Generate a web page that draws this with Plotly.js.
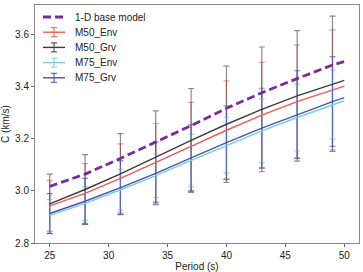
<!DOCTYPE html>
<html>
<head>
<meta charset="utf-8">
<script src="https://cdn.plot.ly/plotly-3.0.1.min.js"></script>
<style>
  html, body { margin: 0; padding: 0; background: #fff; }
  #chart { width: 363px; height: 272px; }
</style>
</head>
<body>
<div id="chart"></div>
<script>
// Periods (s) where the phase-velocity curves are sampled
const periods = [25, 28, 31, 34, 37, 40, 43, 46, 49, 50];
// Periods carrying error bars
const errPeriods = [25, 28, 31, 34, 37, 40, 43, 46, 49];

// Phase velocity C (km/s)
const baseModel = [3.017, 3.064, 3.124, 3.186, 3.250, 3.316, 3.376, 3.430, 3.482, 3.495];
const m50Env = [2.942, 2.990, 3.048, 3.108, 3.170, 3.232, 3.290, 3.342, 3.387, 3.401];
const m50Grv = [2.950, 3.005, 3.065, 3.130, 3.193, 3.255, 3.312, 3.364, 3.410, 3.423];
const m75Env = [2.906, 2.952, 3.004, 3.058, 3.117, 3.175, 3.230, 3.281, 3.331, 3.345];
const m75Grv = [2.913, 2.960, 3.012, 3.067, 3.126, 3.185, 3.240, 3.292, 3.342, 3.357];

// Standard deviations at errPeriods
const m50EnvErr = [0.098, 0.114, 0.132, 0.150, 0.169, 0.189, 0.202, 0.217, 0.230];
const m50GrvErr = [0.114, 0.134, 0.154, 0.176, 0.199, 0.223, 0.239, 0.250, 0.259];
const m75EnvErr = [0.060, 0.065, 0.078, 0.084, 0.100, 0.107, 0.122, 0.128, 0.132];
const m75GrvErr = [0.076, 0.088, 0.103, 0.120, 0.127, 0.140, 0.153, 0.168, 0.172];

const xTicks = [25, 30, 35, 40, 45, 50];
const yTicks = [2.8, 3.0, 3.2, 3.4, 3.6];

const FONT = 'Liberation Sans, Arial, sans-serif';
const BASE = { name: '1-D base model', color: '#7a2a9a', width: 2.8, dash: '8px,4px' };

const series = [
  { name: 'M50_Env', y: m50Env, err: m50EnvErr, color: '#ee5a52', errColor: 'rgba(238,90,82,0.6)' },
  { name: 'M50_Grv', y: m50Grv, err: m50GrvErr, color: '#3c3c3c', errColor: 'rgba(60,60,60,0.6)' },
  { name: 'M75_Env', y: m75Env, err: m75EnvErr, color: '#72d2d0', errColor: 'rgba(114,210,208,0.75)' },
  { name: 'M75_Grv', y: m75Grv, err: m75GrvErr, color: '#4f4fae', errColor: 'rgba(79,79,174,0.7)' }
];

const traces = [];

// error bars (drawn beneath the curves)
series.forEach(s => {
  traces.push({
    x: errPeriods,
    y: s.y.slice(0, errPeriods.length),
    mode: 'markers',
    marker: { size: 1, opacity: 0 },
    error_y: { type: 'data', array: s.err, visible: true, color: s.errColor, thickness: 1.2, width: 3 },
    showlegend: false, hoverinfo: 'skip'
  });
});

// smooth dispersion curves
series.forEach(s => {
  traces.push({
    x: periods, y: s.y, mode: 'lines', name: s.name,
    line: { color: s.color, width: 1.4 }, showlegend: false
  });
});

// reference model
traces.push({
  x: periods, y: baseModel, mode: 'lines', name: BASE.name,
  line: { color: BASE.color, width: BASE.width, dash: BASE.dash }, showlegend: false
});

// ---- compact legend in the upper-left corner (pixel layout -> paper coords)
const W = 363, H = 272;
const M = { l: 35, r: 4, t: 5, b: 29 };
const plotW = W - M.l - M.r, plotH = H - M.t - M.b;
const px = x => (x - M.l) / plotW;
const py = y => (H - M.b - y) / plotH;

const LEG = { x0: 43, x1: 65, textX: 73, y0: 17, step: 15.2, barHalf: 4.5, capHalf: 3 };
const shapes = [];
const annotations = [];

const legendItems = [{ name: BASE.name, color: BASE.color, base: true }]
  .concat(series.map(s => ({ name: s.name, color: s.color, base: false })));

legendItems.forEach((it, i) => {
  const yc = LEG.y0 + i * LEG.step;
  const lineStyle = it.base
    ? { color: it.color, width: BASE.width, dash: BASE.dash }
    : { color: it.color, width: 1.4 };
  shapes.push({ type: 'line', xref: 'paper', yref: 'paper',
    x0: px(LEG.x0), x1: px(LEG.x1), y0: py(yc), y1: py(yc), line: lineStyle });
  if (!it.base) {
    const xm = (LEG.x0 + LEG.x1) / 2;
    const thin = { color: it.color, width: 1 };
    shapes.push({ type: 'line', xref: 'paper', yref: 'paper',
      x0: px(xm), x1: px(xm), y0: py(yc - LEG.barHalf), y1: py(yc + LEG.barHalf), line: thin });
    [-1, 1].forEach(sg => shapes.push({ type: 'line', xref: 'paper', yref: 'paper',
      x0: px(xm - LEG.capHalf), x1: px(xm + LEG.capHalf),
      y0: py(yc + sg * LEG.barHalf), y1: py(yc + sg * LEG.barHalf), line: thin }));
  }
  annotations.push({ xref: 'paper', yref: 'paper', x: px(LEG.textX), y: py(yc),
    xanchor: 'left', yanchor: 'middle', showarrow: false, text: it.name,
    font: { family: FONT, size: 10, color: '#222' } });
});

const axisCommon = {
  showline: true, mirror: true, linecolor: '#8a8a8a', linewidth: 1,
  ticks: 'outside', ticklen: 3, tickcolor: '#666', tickwidth: 1,
  showgrid: false, zeroline: false,
  tickfont: { family: FONT, size: 10, color: '#222' }
};

const layout = {
  width: W, height: H,
  margin: M,
  paper_bgcolor: '#fff', plot_bgcolor: '#fff',
  font: { family: FONT, size: 10, color: '#222' },
  xaxis: Object.assign({}, axisCommon, {
    range: [23.75, 51.25], tickvals: xTicks, ticktext: xTicks.map(String),
    title: { text: 'Period (s)', font: { size: 10 }, standoff: 4 }
  }),
  yaxis: Object.assign({}, axisCommon, {
    range: [2.8, 3.712], tickvals: yTicks, ticktext: yTicks.map(v => v.toFixed(1)),
    title: { text: 'C (km/s)', font: { size: 10 }, standoff: 6 }
  }),
  shapes: shapes,
  annotations: annotations,
  showlegend: false
};

Plotly.newPlot('chart', traces, layout, { displayModeBar: false, staticPlot: true });
</script>
</body>
</html>
